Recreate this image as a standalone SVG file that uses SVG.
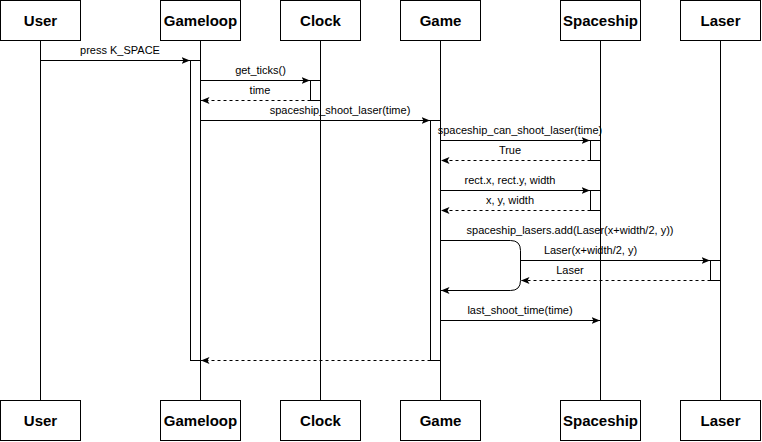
<svg xmlns="http://www.w3.org/2000/svg" width="762" height="442" viewBox="0 0 762 442">
<style>
.box{fill:#fff;stroke:#000;stroke-width:1}
.life{stroke:#000;stroke-width:1;fill:none}
.act{fill:#fff;stroke:#000;stroke-width:1}
.msg{stroke:#000;stroke-width:1;fill:none;marker-end:url(#arr)}
.ret{stroke:#000;stroke-width:1;fill:none;stroke-dasharray:3 3;marker-end:url(#arr)}
.name{font-family:"Liberation Sans",Arial,Helvetica,sans-serif;font-size:15px;font-weight:bold;text-anchor:middle;fill:#000}
.lbl{font-family:"Liberation Sans",Arial,Helvetica,sans-serif;font-size:11px;text-anchor:middle;fill:#000}
</style>
<defs>
<marker id="arr" markerUnits="userSpaceOnUse" markerWidth="9" markerHeight="8" viewBox="0 0 9 8" refX="8.5" refY="4" orient="auto">
<path d="M0,0.5 L8.5,4 L0,7.5 L2,4 Z" fill="#000" stroke="none"/>
</marker>
</defs>
<g id="lifelines">
<line class="life" x1="40.5" y1="40" x2="40.5" y2="400"/>
<line class="life" x1="200.5" y1="40" x2="200.5" y2="400"/>
<line class="life" x1="320.5" y1="40" x2="320.5" y2="400"/>
<line class="life" x1="440.5" y1="40" x2="440.5" y2="400"/>
<line class="life" x1="600.5" y1="40" x2="600.5" y2="400"/>
<line class="life" x1="720.5" y1="40" x2="720.5" y2="400"/>
</g>
<g id="activations">
<rect class="act" x="190.5" y="60.5" width="10" height="300"/>
<rect class="act" x="310.5" y="80.5" width="10" height="20"/>
<rect class="act" x="430.5" y="120.5" width="10" height="240"/>
<rect class="act" x="590.5" y="140.5" width="10" height="20"/>
<rect class="act" x="590.5" y="190.5" width="10" height="20"/>
<rect class="act" x="710.5" y="260.5" width="10" height="20"/>
</g>
<g id="node-user"><rect class="box" x="0.5" y="0.5" width="80" height="40"/><text class="name" x="40.5" y="26">User</text></g>
<g id="node-gameloop"><rect class="box" x="160.5" y="0.5" width="80" height="40"/><text class="name" x="200.5" y="26">Gameloop</text></g>
<g id="node-clock"><rect class="box" x="280.5" y="0.5" width="80" height="40"/><text class="name" x="320.5" y="26">Clock</text></g>
<g id="node-game"><rect class="box" x="400.5" y="0.5" width="80" height="40"/><text class="name" x="440.5" y="26">Game</text></g>
<g id="node-spaceship"><rect class="box" x="560.5" y="0.5" width="80" height="40"/><text class="name" x="600.5" y="26">Spaceship</text></g>
<g id="node-laser"><rect class="box" x="680.5" y="0.5" width="80" height="40"/><text class="name" x="720.5" y="26">Laser</text></g>
<g id="node-user-bottom"><rect class="box" x="0.5" y="400.5" width="80" height="40"/><text class="name" x="40.5" y="426">User</text></g>
<g id="node-gameloop-bottom"><rect class="box" x="160.5" y="400.5" width="80" height="40"/><text class="name" x="200.5" y="426">Gameloop</text></g>
<g id="node-clock-bottom"><rect class="box" x="280.5" y="400.5" width="80" height="40"/><text class="name" x="320.5" y="426">Clock</text></g>
<g id="node-game-bottom"><rect class="box" x="400.5" y="400.5" width="80" height="40"/><text class="name" x="440.5" y="426">Game</text></g>
<g id="node-spaceship-bottom"><rect class="box" x="560.5" y="400.5" width="80" height="40"/><text class="name" x="600.5" y="426">Spaceship</text></g>
<g id="node-laser-bottom"><rect class="box" x="680.5" y="400.5" width="80" height="40"/><text class="name" x="720.5" y="426">Laser</text></g>
<g id="connectors">
<line class="msg" x1="40.5" y1="60.5" x2="190" y2="60.5"/>
<text class="lbl" x="120" y="54">press K_SPACE</text>
<line class="msg" x1="200.5" y1="80.5" x2="310" y2="80.5"/>
<text class="lbl" x="260.5" y="74">get_ticks()</text>
<line class="ret" x1="310.5" y1="100.5" x2="201" y2="100.5"/>
<text class="lbl" x="260" y="94">time</text>
<line class="msg" x1="200.5" y1="120.5" x2="430" y2="120.5"/>
<text class="lbl" x="340" y="114">spaceship_shoot_laser(time)</text>
<line class="msg" x1="440.5" y1="140.5" x2="590" y2="140.5"/>
<text class="lbl" x="520" y="134">spaceship_can_shoot_laser(time)</text>
<line class="ret" x1="590.5" y1="160.5" x2="441" y2="160.5"/>
<text class="lbl" x="510" y="154">True</text>
<line class="msg" x1="440.5" y1="190.5" x2="590" y2="190.5"/>
<text class="lbl" x="510" y="184">rect.x, rect.y, width</text>
<line class="ret" x1="590.5" y1="210.5" x2="441" y2="210.5"/>
<text class="lbl" x="510" y="204">x, y, width</text>
<path class="msg" d="M440.5,240.5 H510.5 Q520.5,240.5 520.5,250.5 V280.5 Q520.5,290.5 510.5,290.5 H441"/>
<text class="lbl" x="570" y="234">spaceship_lasers.add(Laser(x+width/2, y))</text>
<line class="msg" x1="520.5" y1="260.5" x2="710" y2="260.5"/>
<text class="lbl" x="590.5" y="254">Laser(x+width/2, y)</text>
<line class="ret" x1="710.5" y1="280.5" x2="521" y2="280.5"/>
<text class="lbl" x="570" y="274">Laser</text>
<line class="msg" x1="440.5" y1="320.5" x2="600" y2="320.5"/>
<text class="lbl" x="520" y="314">last_shoot_time(time)</text>
<line class="ret" x1="430.5" y1="360.5" x2="201" y2="360.5"/>
</g>
</svg>
